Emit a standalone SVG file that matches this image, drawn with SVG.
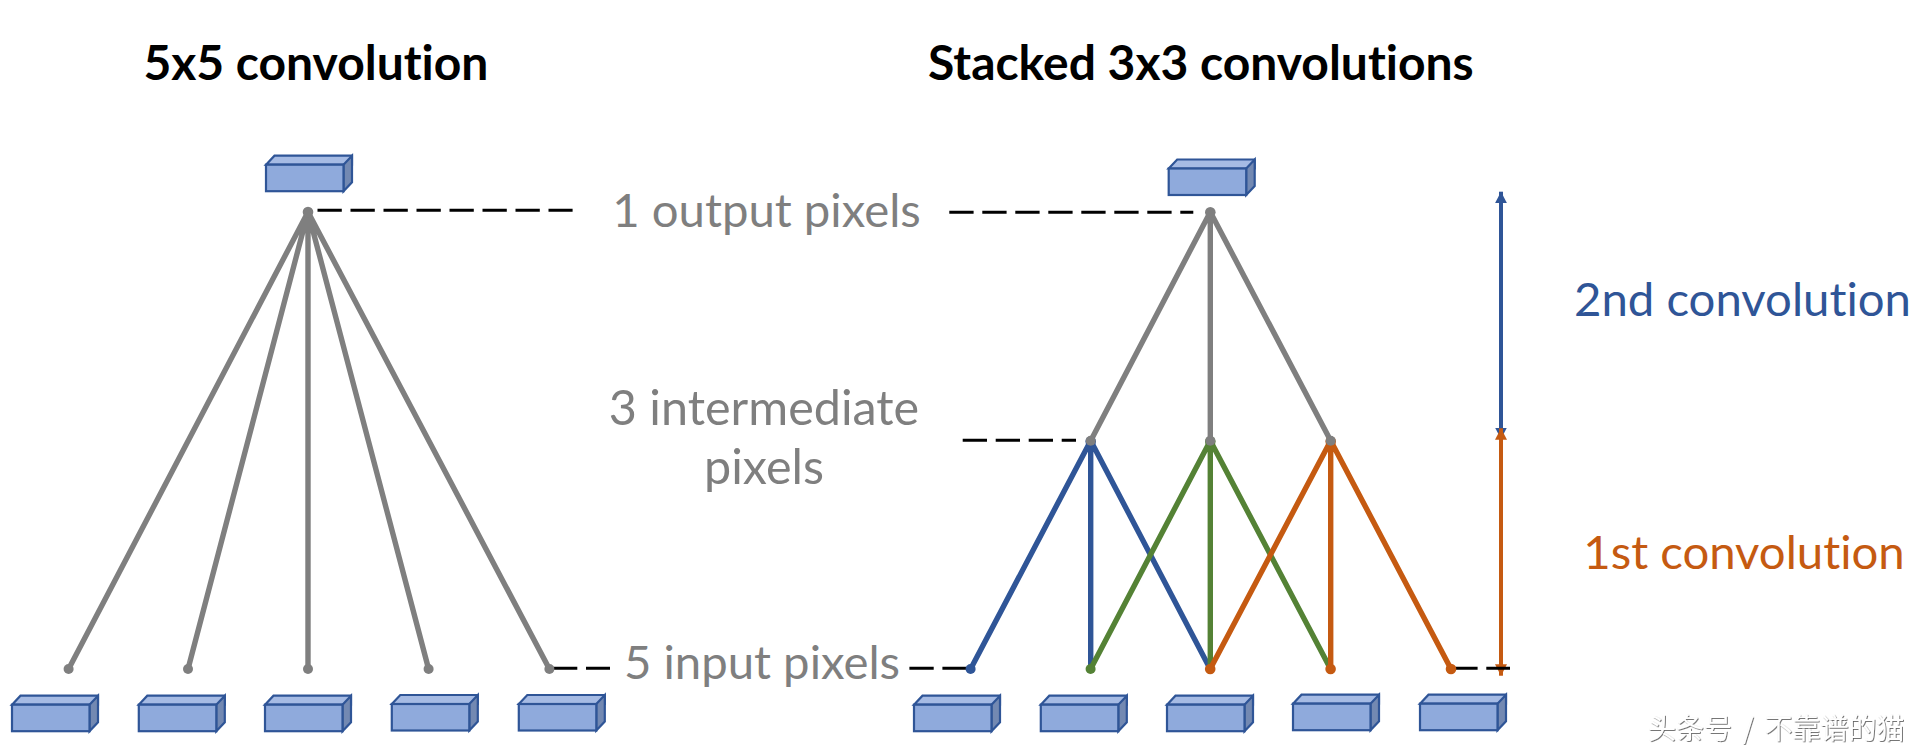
<svg xmlns="http://www.w3.org/2000/svg" width="1919" height="753" viewBox="0 0 1919 753">
<style>
text{font-family:"Lato","Liberation Sans",sans-serif;font-variant-ligatures:none}
.title{font-size:48px;font-weight:700;fill:#000}
.lab{font-size:47.300px;fill:#7f7f7f;text-anchor:middle}
.lab2{font-size:48.500px;fill:#7f7f7f;text-anchor:middle}
.conv{font-size:47.300px;text-anchor:middle}
.wm{font-family:"Noto Sans CJK SC","Noto Sans",sans-serif;font-size:28px;word-spacing:4.500px;fill:#fff;filter:url(#sh)}
.l{fill:none;stroke-width:5.400}
.g{stroke:#7f7f7f}.b{stroke:#2f5597}.n{stroke:#548235}.o{stroke:#c55a11}
.d{fill:none;stroke:#000;stroke-width:3;stroke-dasharray:24.3 8.7}
.a{fill:none;stroke-width:4}
.dg{fill:#7f7f7f}.db{fill:#2f5597}.dn{fill:#548235}.do{fill:#c55a11}
</style>
<defs>
<filter id="sh" x="-5%" y="-10%" width="110%" height="120%"><feDropShadow dx="0.8" dy="0.8" stdDeviation="0.5" flood-color="#555"/></filter>
<g id="box" stroke="#2f5597" stroke-width="2.2" stroke-linejoin="miter">
<path d="M0 0L8.500-9H86V0H77.500Z" fill="#a6bbe4"/>
<path d="M77.500 0L86-9V17.500L77.500 26.500Z" fill="#7389b2"/>
<rect width="77.500" height="26.500" fill="#8faadc"/>
</g>
<marker id="ab" markerUnits="userSpaceOnUse" markerWidth="14" markerHeight="14" refX="11.500" refY="7" orient="auto-start-reverse"><path d="M0 1L11.500 7L0 13Z" fill="#2f5597"/></marker>
<marker id="ao" markerUnits="userSpaceOnUse" markerWidth="14" markerHeight="14" refX="11.500" refY="7" orient="auto-start-reverse"><path d="M0 1L11.500 7L0 13Z" fill="#c55a11"/></marker>
</defs>
<g id="titles">
<text class="title" x="143.400" y="80">5x5 convolution</text>
<text class="title" x="928" y="80">Stacked 3x3 convolutions</text>
</g>
<g id="connectors">
<g class="l g">
<path d="M308 212L68.600 669M308 212L188 669M308 212V669M308 212L428.600 669M308 212L549.400 669"/>
<path d="M1210.300 212L1090.700 440.700M1210.300 212V440.700M1210.300 212L1330.700 440.700"/>
</g>
<path class="l b" d="M1090.700 440.700L970.600 669M1090.700 440.700V669M1090.700 440.700L1210.200 669"/>
<path class="l n" d="M1210.300 440.700L1090.600 669M1210.300 440.700V669M1210.300 440.700L1330.600 669"/>
<path class="l o" d="M1330.700 440.700L1210.200 669M1330.700 440.700V669M1330.700 440.700L1451 669"/>
<path class="a b" d="M1501 191.700V439" marker-start="url(#ab)" marker-end="url(#ab)"/>
<path class="a o" d="M1501 428.300V675.700" marker-start="url(#ao)" marker-end="url(#ao)"/>
<g class="d">
<path d="M317.500 210.300H572.600"/>
<path d="M553 668.300H610"/>
<path d="M949.300 212.300H1193.300"/>
<path d="M962.700 440.300H1076"/>
<path d="M909.400 668.300H970.600"/>
<path d="M1453.300 668.300H1510"/>
</g>
</g>
<g id="dots">
<circle class="dg" cx="308" cy="212" r="5.300"/><circle class="dg" cx="68.600" cy="669" r="5"/><circle class="dg" cx="188" cy="669" r="5"/><circle class="dg" cx="308" cy="669" r="5"/><circle class="dg" cx="428.600" cy="669" r="5"/><circle class="dg" cx="549.400" cy="669" r="5"/>
<circle class="dg" cx="1210.300" cy="212.300" r="5.300"/>
<circle class="db" cx="1090.700" cy="441.500" r="5.300"/><circle class="dn" cx="1210.300" cy="441.500" r="5.300"/><circle class="do" cx="1330.700" cy="441.500" r="5.300"/>
<circle class="dg" cx="1090.700" cy="440.700" r="5"/><circle class="dg" cx="1210.300" cy="440.700" r="5"/><circle class="dg" cx="1330.700" cy="440.700" r="5"/>
<circle class="db" cx="970.600" cy="669" r="5"/><circle class="dn" cx="1090.600" cy="669" r="5"/><circle class="do" cx="1210.200" cy="669" r="5.300"/><circle class="do" cx="1330.600" cy="669" r="5.300"/><circle class="do" cx="1451" cy="669" r="5.300"/>
</g>
<g id="output-5x5"><use href="#box" x="266" y="164.700"/></g>
<g id="output-3x3"><use href="#box" x="1168.700" y="168.500"/></g>
<g id="input-5x5-1"><use href="#box" x="12" y="704.700"/></g>
<g id="input-5x5-2"><use href="#box" x="138.800" y="704.700"/></g>
<g id="input-5x5-3"><use href="#box" x="265" y="704.700"/></g>
<g id="input-5x5-4"><use href="#box" x="391.800" y="704"/></g>
<g id="input-5x5-5"><use href="#box" x="518.800" y="704"/></g>
<g id="input-3x3-1"><use href="#box" x="914" y="704.700"/></g>
<g id="input-3x3-2"><use href="#box" x="1040.800" y="704.700"/></g>
<g id="input-3x3-3"><use href="#box" x="1167" y="704.700"/></g>
<g id="input-3x3-4"><use href="#box" x="1293" y="703.700"/></g>
<g id="input-3x3-5"><use href="#box" x="1420" y="703.700"/></g>
<g id="labels">
<text class="lab" x="766.500" y="227">1 output pixels</text>
<text class="lab2" x="764" y="425">3 intermediate</text>
<text class="lab2" x="764" y="484">pixels</text>
<text class="lab" x="762" y="679">5 input pixels</text>
<text class="conv" x="1742.500" y="316" fill="#2f5597">2nd convolution</text>
<text class="conv" x="1744" y="569" fill="#c55a11">1st convolution</text>
<text class="wm" x="1648" y="739">头条号 / 不靠谱的猫</text>
</g>
</svg>
